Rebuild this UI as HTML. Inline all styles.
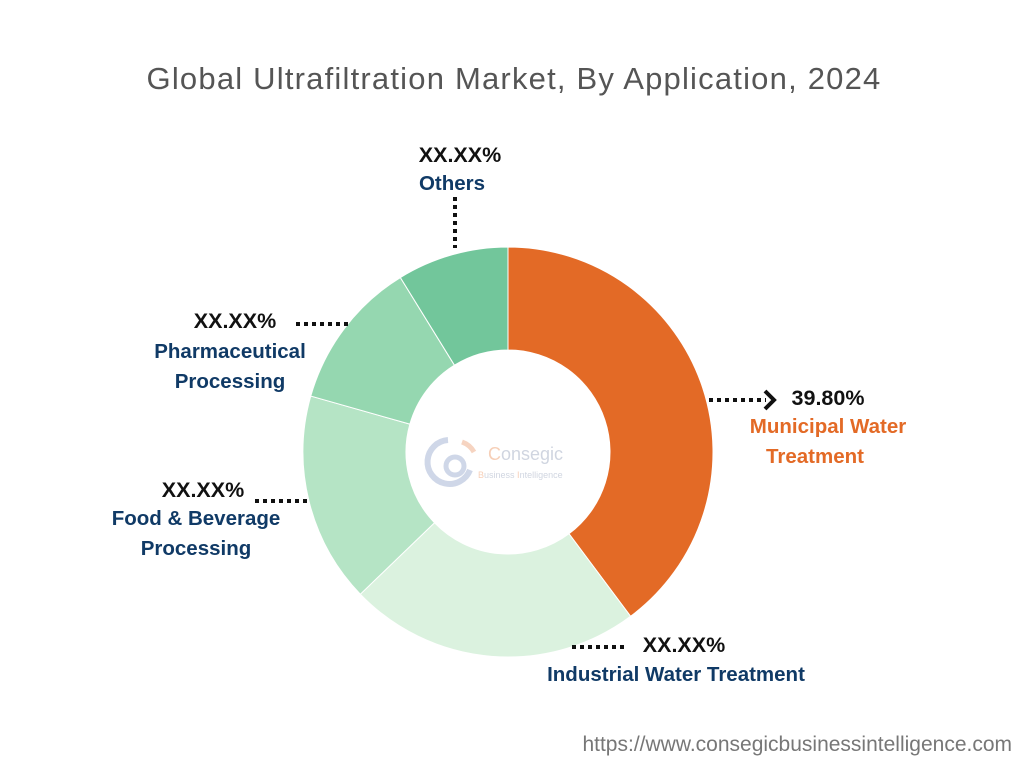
<!DOCTYPE html>
<html><head><meta charset="utf-8"><style>
body{margin:0;width:1024px;height:768px;background:#fff;font-family:"Liberation Sans",sans-serif;overflow:hidden}
</style></head><body>
<svg id="chart" width="1024" height="768" xmlns="http://www.w3.org/2000/svg">
<text x="514" y="89" text-anchor="middle" font-size="31" fill="#555" letter-spacing="1.2">Global Ultrafiltration Market, By Application, 2024</text>
<g id="slices"></g>
<g opacity="0.55">
<path d="M448 440 A22 22 0 1 0 470 470" fill="none" stroke="#a9b8d6" stroke-width="6"/>
<circle cx="455" cy="466" r="9" fill="none" stroke="#a9b8d6" stroke-width="5"/>
<path d="M462 442 A22 22 0 0 1 474 452" fill="none" stroke="#f0b28f" stroke-width="5"/>
<text x="488" y="460" font-size="18" fill="#f0a87e">C<tspan fill="#aab4c8">onsegic</tspan></text>
<text x="478" y="478" font-size="9" fill="#f0a87e">B<tspan fill="#aab4c8">usiness </tspan>I<tspan fill="#aab4c8">ntelligence</tspan></text>
</g>
<g stroke="#111" stroke-width="4" stroke-dasharray="4 4" fill="none">
<line x1="455" y1="197" x2="455" y2="248"/>
<line x1="296" y1="324" x2="350" y2="324"/>
<line x1="255" y1="501" x2="310" y2="501"/>
<line x1="572" y1="647" x2="628" y2="647"/>
<line x1="709" y1="400" x2="766" y2="400"/>
</g>
<path d="M765 391 L774 400 L765 409" fill="none" stroke="#111" stroke-width="4"/>
<g font-weight="bold" font-size="21.5">
<text x="460" y="162" text-anchor="middle" fill="#111">XX.XX%</text>
<text x="452" y="190" text-anchor="middle" fill="#103a66" font-size="20.5">Others</text>
<text x="235" y="328" text-anchor="middle" fill="#111">XX.XX%</text>
<text x="230" y="358" text-anchor="middle" fill="#103a66" font-size="20.5">Pharmaceutical</text>
<text x="230" y="388" text-anchor="middle" fill="#103a66" font-size="20.5">Processing</text>
<text x="203" y="497" text-anchor="middle" fill="#111">XX.XX%</text>
<text x="196" y="525" text-anchor="middle" fill="#103a66" font-size="20.5">Food &amp; Beverage</text>
<text x="196" y="555" text-anchor="middle" fill="#103a66" font-size="20.5">Processing</text>
<text x="684" y="652" text-anchor="middle" fill="#111">XX.XX%</text>
<text x="676" y="681" text-anchor="middle" fill="#103a66" font-size="20.5">Industrial Water Treatment</text>
<text x="828" y="405" text-anchor="middle" fill="#111">39.80%</text>
<text x="828" y="433" text-anchor="middle" fill="#e36a26" font-size="20.5">Municipal Water</text>
<text x="815" y="463" text-anchor="middle" fill="#e36a26" font-size="20.5">Treatment</text>
</g>
<text x="1012" y="751" text-anchor="end" font-size="21" fill="#777">https://www.consegicbusinessintelligence.com</text>
</svg>
<script>
const categories=["Municipal Water Treatment","Industrial Water Treatment","Food & Beverage Processing","Pharmaceutical Processing","Others"];
const values=[39.8,23.0,16.6,11.8,8.8];
const colors=["#e36a26","#dbf2df","#b5e4c5","#95d7b0","#72c69b"];
const cx=508,cy=452,R=205,r=102;
const g=document.getElementById('slices');
const total=values.reduce((a,b)=>a+b,0);
let a0=0;
function pt(rad,a){return [cx+rad*Math.sin(a),cy-rad*Math.cos(a)];}
values.forEach((v,i)=>{
  const a1=a0+v/total*2*Math.PI;
  const lg=(a1-a0)>Math.PI?1:0;
  const [x0,y0]=pt(R,a0),[x1,y1]=pt(R,a1),[x2,y2]=pt(r,a1),[x3,y3]=pt(r,a0);
  const p=document.createElementNS("http://www.w3.org/2000/svg","path");
  p.setAttribute('d',`M${x0} ${y0} A${R} ${R} 0 ${lg} 1 ${x1} ${y1} L${x2} ${y2} A${r} ${r} 0 ${lg} 0 ${x3} ${y3} Z`);
  p.setAttribute('fill',colors[i]);
  p.setAttribute('stroke','#fff');
  p.setAttribute('stroke-width','1');
  
  
  g.appendChild(p);
  a0=a1;
});
</script>
</body></html>
